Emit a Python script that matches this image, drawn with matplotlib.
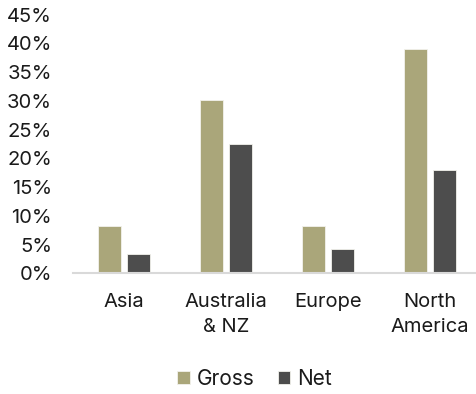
import matplotlib
matplotlib.use("Agg")
import matplotlib.pyplot as plt
import numpy as np
from matplotlib.ticker import FuncFormatter, MultipleLocator

categories = ["Asia", "Australia\n& NZ", "Europe", "North\nAmerica"]
gross = [8.3, 30.2, 8.3, 39.0]
net = [3.4, 22.6, 4.3, 18.0]

plt.rcParams['font.family'] = ['Inter', 'DejaVu Sans']

fig = plt.figure(figsize=(4.76, 3.94), dpi=100)
ax = fig.add_axes([73/476, 0.306, 1 - 73/476, 0.9626 - 0.306])

x = np.arange(len(categories))
w = 0.22
off = 0.144
ax.bar(x - off, gross, w, color="#aaa67a", edgecolor="#f2f2ec", linewidth=0.6, label="Gross", zorder=2)
ax.bar(x + off, net, w, color="#4d4d4d", edgecolor="#f2f2ec", linewidth=0.6, label="Net", zorder=2)

ax.set_xlim(-0.5, 3.5 - 5/102)
ax.set_ylim(0, 45)
ax.yaxis.set_major_locator(MultipleLocator(5))
ax.yaxis.set_major_formatter(FuncFormatter(lambda v, p: f"{v:.0f}%"))
for s in ["top", "right", "left"]:
    ax.spines[s].set_visible(False)
ax.spines["bottom"].set_color("#d9d9d9")
ax.spines["bottom"].set_linewidth(1.5)
ax.set_xticks(x)
ax.set_xticklabels(categories, fontsize=14.5, color="#1a1a1a", linespacing=1.5)
ax.tick_params(axis="x", length=0, pad=14)
ax.tick_params(axis="y", length=0, pad=15, labelsize=14.5, labelcolor="#1a1a1a")

fig.legend(loc="center", bbox_to_anchor=(0.535, 1 - 379/394), ncol=2, frameon=False,
           fontsize=15, handlelength=0.6, handleheight=0.6, handletextpad=0.35,
           columnspacing=1.1, labelcolor="#1a1a1a")

fig.savefig("out.png", dpi=100)
